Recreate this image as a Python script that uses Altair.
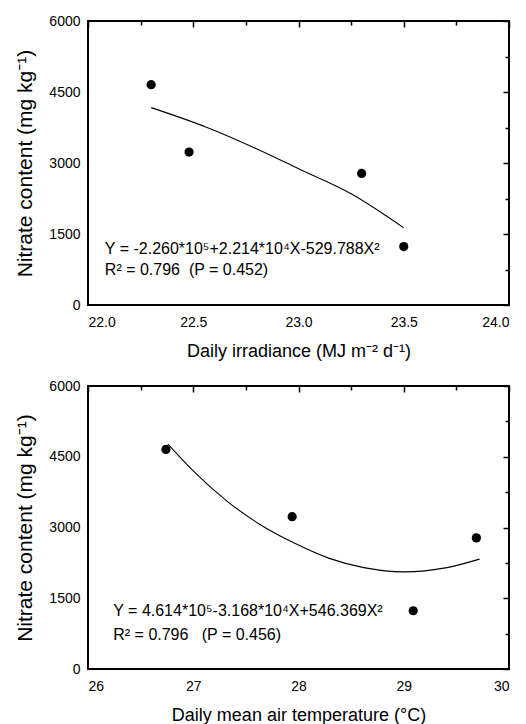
import altair as alt
import pandas as pd

FONT = "Liberation Sans, Arial, Noto Sans, sans-serif"

# ---- Panel 1: daily irradiance ----
irr_pts_x = [22.3, 22.48, 23.3, 23.5]
irr_pts_y = [4655, 3230, 2780, 1235]
irr_fit_x = [22.3, 22.56, 22.8, 23.0, 23.25, 23.5]
irr_fit_y = [4170, 3760, 3300, 2880, 2350, 1630]
irr_major = [22.0, 22.5, 23.0, 23.5, 24.0]
irr_minor = [22.25, 22.75, 23.25, 23.75]
irr_domain = [22.0, 24.0]
irr_text = ["Y = -2.260*10\u2075+2.214*10\u2074X-529.788X\u00b2",
            "R\u00b2 = 0.796\u00a0\u00a0(P = 0.452)"]
irr_text_x = [22.08, 22.08]
irr_text_y = [1190, 740]
irr_title = "Daily irradiance (MJ m\u207b\u00b2 d\u207b\u00b9)"

# ---- Panel 2: daily mean air temperature ----
tmp_pts_x = [26.74, 27.94, 29.09, 29.69]
tmp_pts_y = [4655, 3230, 1235, 2780]
tmp_fit_x = [26.76, 27.0, 27.32, 27.63, 27.95, 28.3, 28.62, 29.0, 29.41, 29.72]
tmp_fit_y = [4770, 4200, 3560, 3070, 2680, 2340, 2150, 2060, 2150, 2330]
tmp_major = [26, 27, 28, 29, 30]
tmp_minor = [26.5, 27.5, 28.5, 29.5]
tmp_domain = [26, 30]
tmp_text = ["Y = 4.614*10\u2075-3.168*10\u2074X+546.369X\u00b2",
            "R\u00b2 = 0.796\u00a0\u00a0\u00a0(P = 0.456)"]
tmp_text_x = [26.24, 26.24]
tmp_text_y = [1230, 721]
tmp_title = "Daily mean air temperature (\u00b0C)"

y_major = [0, 1500, 3000, 4500, 6000]
y_minor = [750, 2250, 3750, 5250]
y_domain = [0, 6000]
y_title = "Nitrate content (mg kg\u207b\u00b9)"

W = 421


def tick_axis(values, size):
    return alt.Axis(values=values, labels=False, domain=False, grid=False,
                    ticks=True, tickSize=size, tickWidth=1.5,
                    tickColor="black", offset=-size, title=None)


def panel(px, py, fx, fy, xmaj, xmin, xdom, txt, tx, ty, xtitle, xfmt, h):
    xs = alt.Scale(domain=xdom, nice=False, zero=False)
    ys = alt.Scale(domain=y_domain, nice=False)
    xaxis = alt.Axis(values=xmaj, format=xfmt, title=xtitle,
                     labelFontSize=14, titleFontSize=18, titlePadding=13,
                     labelPadding=10)
    yaxis = alt.Axis(values=y_major, format="d", title=y_title,
                     labelFontSize=14, titleFontSize=21, titlePadding=13,
                     labelPadding=8)

    Xn = lambda: alt.X("x:Q", scale=xs, axis=None)
    Yn = lambda: alt.Y("y:Q", scale=ys, axis=None)

    pts = pd.DataFrame({"x": px, "y": py})
    fit = pd.DataFrame({"x": fx, "y": fy})
    points = alt.Chart(pts).mark_circle(size=85, color="black", opacity=1).encode(
        x=alt.X("x:Q", scale=xs, axis=xaxis),
        y=alt.Y("y:Q", scale=ys, axis=yaxis))
    line = alt.Chart(fit).mark_line(color="black", strokeWidth=1.1,
                                    interpolate="monotone").encode(x=Xn(), y=Yn())
    text = alt.Chart(pd.DataFrame({"x": tx, "y": ty, "t": txt})).mark_text(
        align="left", baseline="middle", font=FONT, fontSize=16,
        color="black").encode(x=Xn(), y=Yn(), text="t:N")
    # inward tick marks drawn as label-less axes shifted into the plot
    xt_major = alt.Chart(pts).mark_point(opacity=0).encode(
        x=alt.X("x:Q", scale=xs, axis=tick_axis(xmaj, 6)), y=Yn())
    xt_minor = alt.Chart(pts).mark_point(opacity=0).encode(
        x=alt.X("x:Q", scale=xs, axis=tick_axis(xmin, 4)), y=Yn())
    yt_major = alt.Chart(pts).mark_point(opacity=0).encode(
        x=Xn(), y=alt.Y("y:Q", scale=ys, axis=tick_axis(y_major, 6)))
    yt_minor = alt.Chart(pts).mark_point(opacity=0).encode(
        x=Xn(), y=alt.Y("y:Q", scale=ys, axis=tick_axis(y_minor, 4)))
    return alt.layer(points, line, text, xt_major, xt_minor, yt_major,
                     yt_minor).resolve_axis(
        x="independent", y="independent").properties(width=W, height=h)


top = panel(irr_pts_x, irr_pts_y, irr_fit_x, irr_fit_y, irr_major, irr_minor,
            irr_domain, irr_text, irr_text_x, irr_text_y, irr_title, ".1f", 284)
bottom = panel(tmp_pts_x, tmp_pts_y, tmp_fit_x, tmp_fit_y, tmp_major, tmp_minor,
               tmp_domain, tmp_text, tmp_text_x, tmp_text_y, tmp_title, "d", 283)

chart = alt.vconcat(top, bottom, spacing=17).resolve_scale(
    x="independent"
).configure(
    background="white"
).configure_view(
    stroke="black", strokeWidth=2
).configure_axis(
    ticks=False, domain=False, grid=False,
    labelFont=FONT, labelColor="black",
    titleFont=FONT, titleFontWeight="normal", titleColor="black",
)

chart.save("out.html", embed_options={"renderer": "svg", "actions": False})
